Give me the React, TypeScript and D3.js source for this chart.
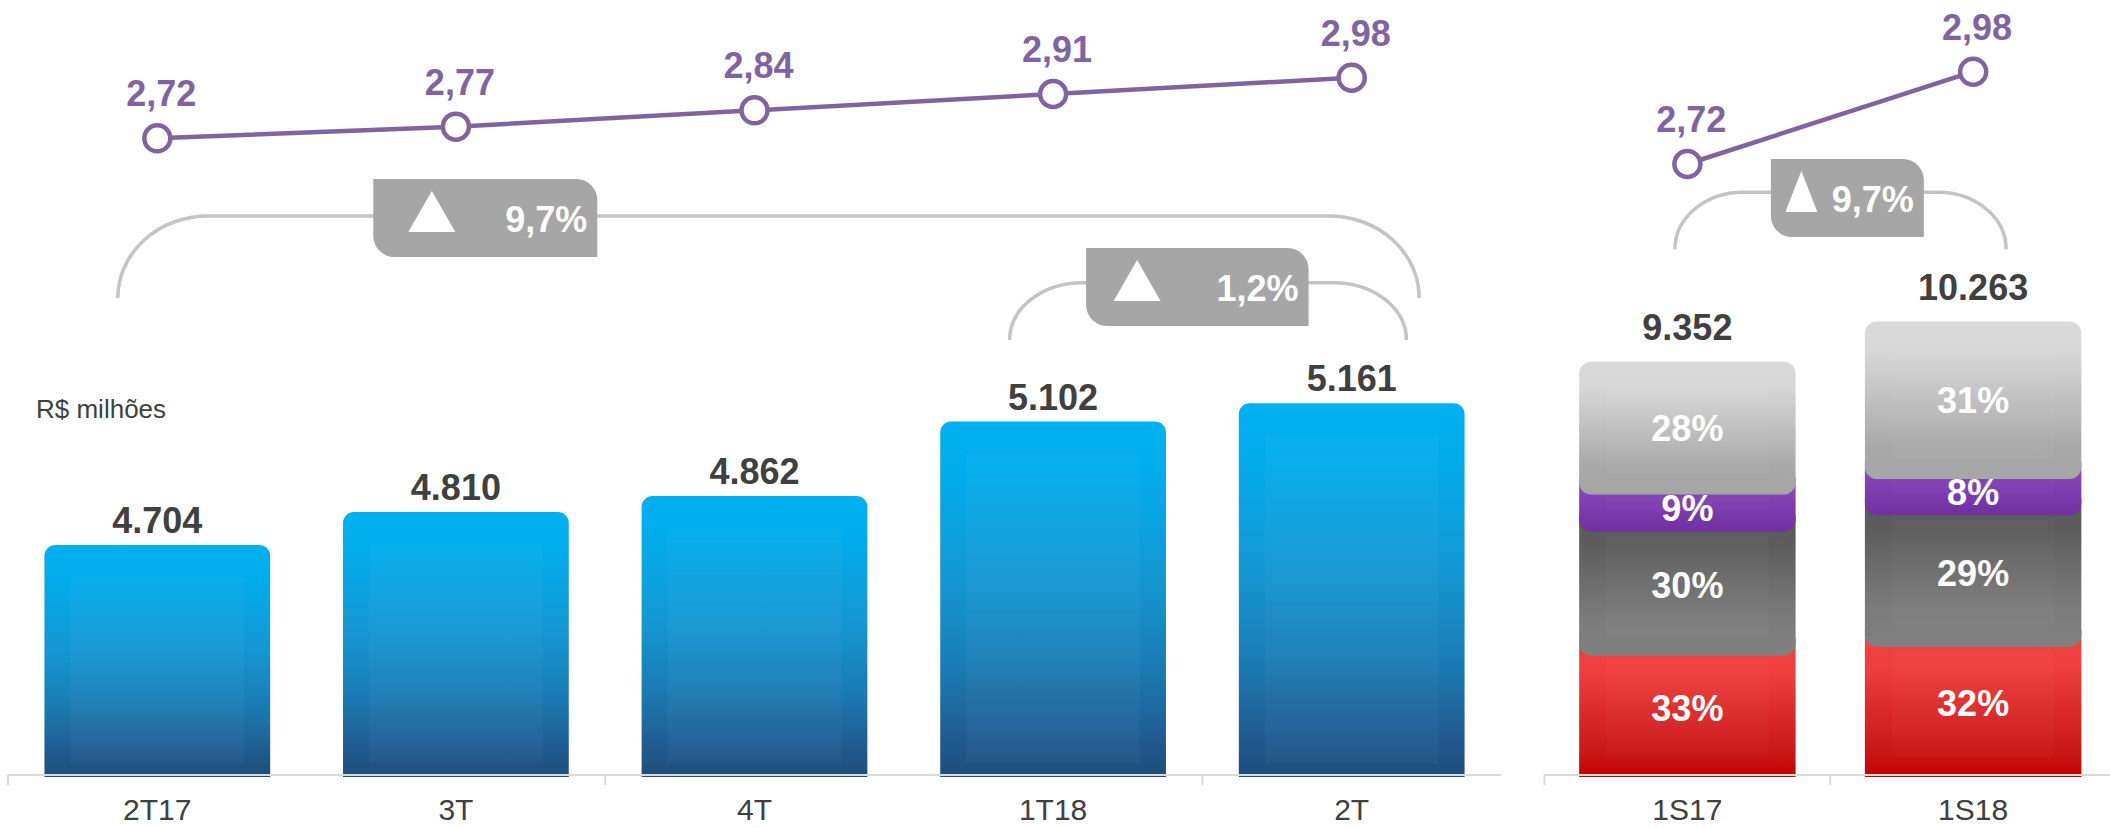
import React from "react";
import * as d3 from "d3";

// ---------- data ----------
const quarters = ["2T17", "3T", "4T", "1T18", "2T"];
const quarterRevenue = [4704, 4810, 4862, 5102, 5161];
const quarterIndex = [2.72, 2.77, 2.84, 2.91, 2.98];

const semesters = ["1S17", "1S18"];
const semesterRevenue = [9352, 10263];
const semesterIndex = [2.72, 2.98];

// stacked segments, bottom to top
const segmentKeys = ["seg1", "seg2", "seg3", "seg4"];
const share1S17 = [33, 30, 9, 28];
const share1S18 = [32, 29, 8, 31];

const growthLabels = ["9,7%", "1,2%", "9,7%"];
const unitLabel = "R$ milhões";

// ---------- styles ----------
const FONT = "'Liberation Sans', Arial, Helvetica, sans-serif";
const PURPLE = "#8064A2";
const TEXT = "#404040";
const BRACKET = "#C4C4C4";
const BADGE = "#A6A6A6";
const AXIS = "#D9D9D9";

const segGradients: Record<string, [number, string][]> = {
  seg1: [[0, "#F24444"], [0.25, "#EE3E3E"], [0.85, "#C81515"], [1, "#C00000"]],
  seg2: [[0, "#5A5A5A"], [0.2, "#5C5C5C"], [0.75, "#7C7C7C"], [1, "#808080"]],
  seg3: [[0, "#8E50C0"], [0.5, "#7E3EB0"], [1, "#7030A0"]],
  seg4: [[0, "#D9D9D9"], [0.18, "#D8D8D8"], [0.8, "#A8A8A8"], [1, "#A6A6A6"]],
};

function topRounded(x: number, y: number, w: number, h: number, r: number) {
  return `M${x},${y + h}V${y + r}A${r},${r} 0 0 1 ${x + r},${y}H${x + w - r}A${r},${r} 0 0 1 ${x + w},${y + r}V${y + h}Z`;
}
function roundedRect(x: number, y: number, w: number, h: number, rt: number, rb: number) {
  return `M${x},${y + rt}A${rt},${rt} 0 0 1 ${x + rt},${y}H${x + w - rt}A${rt},${rt} 0 0 1 ${x + w},${y + rt}V${y + h - rb}A${rb},${rb} 0 0 1 ${x + w - rb},${y + h}H${x + rb}A${rb},${rb} 0 0 1 ${x},${y + h - rb}Z`;
}
function bracketPath(xl: number, xr: number, yl: number, yb: number, rx: number) {
  const ry = yb - yl;
  return `M${xl},${yb}A${rx},${ry} 0 0 1 ${xl + rx},${yl}H${xr - rx}A${rx},${ry} 0 0 1 ${xr},${yb}`;
}
function badgePath(x: number, y: number, w: number, h: number, r: number) {
  return `M${x},${y}H${x + w - r}A${r},${r} 0 0 1 ${x + w},${y + r}V${y + h}H${x + r}A${r},${r} 0 0 1 ${x},${y + h - r}Z`;
}

export default function App() {
  const W = 2110;
  const H = 828;
  const locale = d3.formatLocale({ decimal: ",", thousands: ".", grouping: [3], currency: ["R$ ", ""] });
  const fmtInt = locale.format(",d");
  const fmtDec = locale.format(".2f");

  const axisY = 775;

  // left panel
  const xQ = d3.scaleBand<string>().domain(quarters).range([8, 1501]).paddingInner(0.244).paddingOuter(0.122);
  const yQ = d3.scaleLinear().domain([3962, d3.max(quarterRevenue) as number]).range([axisY, 403.3]);
  const yQLine = d3.scaleLinear().domain(d3.extent(quarterIndex) as [number, number]).range([138.3, 77.7]);
  const cxQ = (q: string) => (xQ(q) as number) + xQ.bandwidth() / 2;

  // right panel
  const xS = d3.scaleBand<string>().domain(semesters).range([1544.5, 2116]).paddingInner(0.2425).paddingOuter(0.12125);
  const yS = d3.scaleLinear().domain([0, d3.max(semesterRevenue) as number]).range([axisY, 321.5]);
  const ySLine = d3.scaleLinear().domain(d3.extent(semesterIndex) as [number, number]).range([164, 71.7]);
  const cxS = (s: string) => (xS(s) as number) + xS.bandwidth() / 2;

  const lineQ = d3.line<number>().x((_, i) => cxQ(quarters[i])).y((d) => yQLine(d));
  const lineS = d3.line<number>().x((_, i) => cxS(semesters[i])).y((d) => ySLine(d));

  // stacked table
  const shares = [share1S17, share1S18];
  const rows = semesters.map((s, i) => {
    const row: any = { semester: s, total: semesterRevenue[i] };
    segmentKeys.forEach((k, j) => (row[k] = (shares[i][j] / 100) * semesterRevenue[i]));
    return row;
  });
  const stacked = d3.stack<any>().keys(segmentKeys)(rows);

  const qTicks = [0, 2, 4].map((k) => xQ.range()[0] + k * xQ.step());
  const sTicks = [0, 1].map((k) => xS.range()[0] + k * xS.step());

  // annotations (brackets + badges)
  const annotations = [
    {
      xl: cxQ(quarters[0]) - 39.5, xr: cxQ(quarters[4]) + 67.5, yl: 216, yb: 298, rx: 90,
      bx: cxQ(quarters[0]) + 216, bw: 224, bt: 179, triOff: 35, triW: 47, label: growthLabels[0],
    },
    {
      xl: cxQ(quarters[3]) - 43.5, xr: cxQ(quarters[4]) + 54.7, yl: 282.7, yb: 340, rx: 73,
      bx: cxQ(quarters[3]) + 33, bw: 222.5, bt: 248, triOff: 27.5, triW: 47, label: growthLabels[1],
    },
    {
      xl: cxS(semesters[0]) - 12.5, xr: cxS(semesters[1]) + 33, yl: 192.3, yb: 249.3, rx: 68,
      bx: cxS(semesters[0]) + 83.5, bw: 153, bt: 159, triOff: 14.5, triW: 32, label: growthLabels[2],
    },
  ];

  const segR = 12;
  const segExt = 17;

  return (
    <svg
      width={W}
      height={H}
      viewBox={`0 0 ${W} ${H}`}
      style={{ position: "absolute", left: 0, top: 0, display: "block", background: "#fff" }}
      fontFamily={FONT}
    >
      <defs>
        <linearGradient id="gBlue" x1="0" y1="0" x2="0" y2="1">
          <stop offset="0" stopColor="#00B0F0" />
          <stop offset="0.13" stopColor="#02ADED" />
          <stop offset="0.45" stopColor="#1497D3" />
          <stop offset="0.7" stopColor="#1B7AB3" />
          <stop offset="0.9" stopColor="#20598E" />
          <stop offset="1" stopColor="#1F4E79" />
        </linearGradient>
        {segmentKeys.map((k) => (
          <linearGradient key={k} id={`g-${k}`} x1="0" y1="0" x2="0" y2="1">
            {segGradients[k].map(([o, c], i) => (
              <stop key={i} offset={o} stopColor={c} />
            ))}
          </linearGradient>
        ))}
      </defs>

      {/* unit label */}
      <text x={36} y={418} fontSize={26} fill={TEXT}>
        {unitLabel}
      </text>

      {/* left bars */}
      {quarters.map((q, i) => {
        const x = xQ(q) as number;
        const w = xQ.bandwidth();
        const top = yQ(quarterRevenue[i]);
        const bottom = axisY + 2;
        return (
          <g key={q}>
            <path d={topRounded(x, top, w, bottom - top, 11)} fill="url(#gBlue)" />
            <rect x={x + 26} y={top + 32} width={w - 52} height={Math.max(0, bottom - top - 46)} fill="#fff" opacity={0.03} />
            <text x={x + w / 2} y={top - 12} textAnchor="middle" fontSize={36} fontWeight="bold" fill={TEXT}>
              {fmtInt(quarterRevenue[i])}
            </text>
          </g>
        );
      })}

      {/* stacked bars */}
      {stacked.map((layer, li) =>
        layer.map((d, si) => {
          const s = semesters[si];
          const x = xS(s) as number;
          const w = xS.bandwidth();
          const top = yS(d[1]);
          const isBottom = li === 0;
          const isTop = li === stacked.length - 1;
          const bottom = isBottom ? axisY + 2 : yS(d[0]) + segExt;
          const rt = isTop ? segR : 0;
          const rb = isBottom ? 0 : segR;
          return (
            <g key={`${layer.key}-${s}`}>
              <path d={roundedRect(x, top, w, bottom - top, rt, rb)} fill={`url(#g-${layer.key})`} />
              <rect x={x + 27} y={top + 20} width={w - 54} height={Math.max(0, bottom - top - 40)} fill="#fff" opacity={0.025} />
              <text
                x={x + w / 2}
                y={(top + bottom) / 2 + (li === 2 ? 3 : 0)}
                dy="0.36em"
                textAnchor="middle"
                fontSize={36}
                fontWeight="bold"
                fill="#fff"
              >
                {`${shares[si][li]}%`}
              </text>
            </g>
          );
        })
      )}
      {semesters.map((s, i) => (
        <text key={s} x={cxS(s)} y={yS(semesterRevenue[i]) - 22} textAnchor="middle" fontSize={36} fontWeight="bold" fill={TEXT}>
          {fmtInt(semesterRevenue[i])}
        </text>
      ))}

      {/* axes */}
      <line x1={xQ.range()[0]} x2={xQ.range()[1]} y1={axisY} y2={axisY} stroke={AXIS} strokeWidth={2} />
      {qTicks.map((t, i) => (
        <line key={i} x1={t} x2={t} y1={axisY} y2={axisY + 10} stroke={AXIS} strokeWidth={2} />
      ))}
      <line x1={xS.range()[0]} x2={xS.range()[1]} y1={axisY} y2={axisY} stroke={AXIS} strokeWidth={2} />
      {sTicks.map((t, i) => (
        <line key={i} x1={t} x2={t} y1={axisY} y2={axisY + 10} stroke={AXIS} strokeWidth={2} />
      ))}
      {quarters.map((q) => (
        <text key={q} x={cxQ(q)} y={820} textAnchor="middle" fontSize={30} fill={TEXT}>
          {q}
        </text>
      ))}
      {semesters.map((s) => (
        <text key={s} x={cxS(s)} y={820} textAnchor="middle" fontSize={30} fill={TEXT}>
          {s}
        </text>
      ))}

      {/* brackets and badges */}
      {annotations.map((a, i) => {
        const baseY = a.bt + 53;
        return (
          <g key={i}>
            <path d={bracketPath(a.xl, a.xr, a.yl, a.yb, a.rx)} fill="none" stroke={BRACKET} strokeWidth={3.5} />
            <path d={badgePath(a.bx, a.bt, a.bw, 78, 21)} fill={BADGE} />
            <polygon
              points={`${a.bx + a.triOff},${baseY} ${a.bx + a.triOff + a.triW / 2},${baseY - 41} ${a.bx + a.triOff + a.triW},${baseY}`}
              fill="#fff"
            />
            <text x={a.bx + a.bw - 10} y={baseY} textAnchor="end" fontSize={36} fontWeight="bold" fill="#fff">
              {a.label}
            </text>
          </g>
        );
      })}

      {/* index lines */}
      <path d={lineQ(quarterIndex) as string} fill="none" stroke={PURPLE} strokeWidth={4.5} />
      {quarterIndex.map((v, i) => (
        <g key={i}>
          <circle cx={cxQ(quarters[i])} cy={yQLine(v)} r={13} fill="#fff" stroke={PURPLE} strokeWidth={4.5} />
          <text x={cxQ(quarters[i]) + 4} y={yQLine(v) - 32} textAnchor="middle" fontSize={36} fontWeight="bold" fill={PURPLE}>
            {fmtDec(v)}
          </text>
        </g>
      ))}
      <path d={lineS(semesterIndex) as string} fill="none" stroke={PURPLE} strokeWidth={4.5} />
      {semesterIndex.map((v, i) => (
        <g key={i}>
          <circle cx={cxS(semesters[i])} cy={ySLine(v)} r={13} fill="#fff" stroke={PURPLE} strokeWidth={4.5} />
          <text x={cxS(semesters[i]) + 4} y={ySLine(v) - 32} textAnchor="middle" fontSize={36} fontWeight="bold" fill={PURPLE}>
            {fmtDec(v)}
          </text>
        </g>
      ))}
    </svg>
  );
}
